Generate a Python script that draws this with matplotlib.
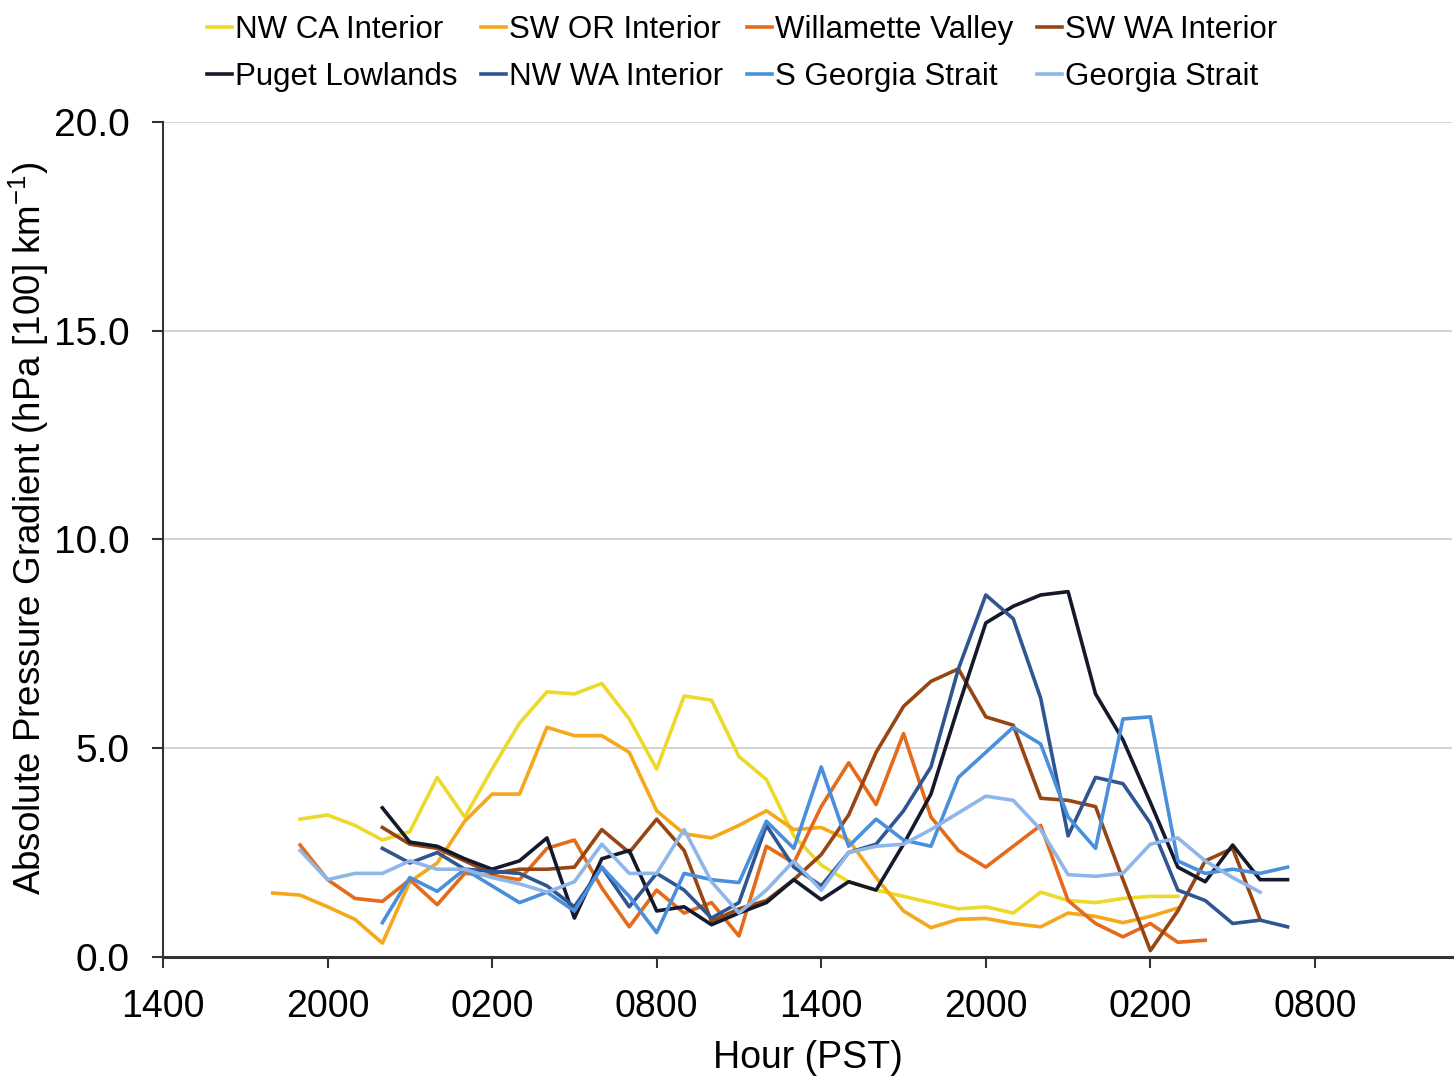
import numpy as np
import matplotlib
matplotlib.use('Agg')
from matplotlib import pyplot as plt

plt.rcParams['font.family'] = ['Liberation Sans', 'DejaVu Sans']

# hours since 1400 PST on day 1; each series starts at its own hour
tick_hours = [0, 6, 12, 18, 24, 30, 36, 42]
tick_labels = ['1400', '2000', '0200', '0800', '1400', '2000', '0200', '0800']

names = ['NW CA Interior', 'SW OR Interior', 'Willamette Valley', 'SW WA Interior',
         'Puget Lowlands', 'NW WA Interior', 'S Georgia Strait', 'Georgia Strait']
colors = ['#ecd92a', '#f5a81c', '#e46b1a', '#984514',
          '#141a2b', '#2f5690', '#4a8fdc', '#8fb6e8']
starts = [5, 4, 5, 8, 8, 8, 8, 5]

nwca = [3.3, 3.4, 3.15, 2.8, 3.0, 4.3, 3.35, 4.5, 5.6, 6.35, 6.3, 6.55, 5.7, 4.5,
        6.25, 6.15, 4.8, 4.25, 2.9, 2.2, 1.8, 1.6, 1.45, 1.3, 1.15, 1.2, 1.05,
        1.55, 1.35, 1.3, 1.4, 1.45, 1.45]
swor = [1.53, 1.48, 1.2, 0.9, 0.33, 1.8, 2.25, 3.25, 3.9, 3.9, 5.5, 5.3, 5.3, 4.9,
        3.5, 2.95, 2.85, 3.15, 3.5, 3.05, 3.1, 2.8, 1.9, 1.1, 0.7, 0.9, 0.92, 0.8,
        0.72, 1.05, 0.97, 0.82, 0.97, 1.17]
willamette = [2.68, 1.85, 1.4, 1.33, 1.85, 1.25, 2.0, 1.95, 1.85, 2.6, 2.8, 1.65,
              0.72, 1.6, 1.05, 1.3, 0.5, 2.65, 2.25, 3.6, 4.65, 3.65, 5.35, 3.35,
              2.55, 2.15, 2.65, 3.15, 1.35, 0.8, 0.48, 0.8, 0.35, 0.4]
swwa = [3.1, 2.7, 2.6, 2.3, 2.0, 2.1, 2.1, 2.15, 3.05, 2.5, 3.3, 2.55, 0.85, 1.15,
        1.35, 1.85, 2.45, 3.4, 4.9, 6.0, 6.6, 6.9, 5.75, 5.55, 3.8, 3.75, 3.6,
        1.85, 0.15, 1.1, 2.3, 2.6, 0.9]
puget = [3.57, 2.75, 2.65, 2.35, 2.1, 2.3, 2.85, 0.93, 2.35, 2.55, 1.1, 1.2, 0.77,
         1.05, 1.3, 1.85, 1.37, 1.8, 1.6, 2.7, 3.9, 6.0, 8.0, 8.4, 8.67, 8.75,
         6.3, 5.2, 3.7, 2.15, 1.8, 2.68, 1.85, 1.85]
nwwa = [2.6, 2.25, 2.5, 2.1, 2.05, 2.0, 1.7, 1.2, 2.15, 1.2, 2.0, 1.6, 0.93, 1.3,
        3.15, 2.15, 1.7, 2.5, 2.7, 3.5, 4.55, 6.9, 8.67, 8.1, 6.2, 2.9, 4.3, 4.15,
        3.2, 1.6, 1.35, 0.8, 0.88, 0.72]
sgeorgia = [0.82, 1.9, 1.57, 2.1, 1.7, 1.3, 1.55, 1.1, 2.15, 1.45, 0.58, 2.0, 1.85,
            1.78, 3.25, 2.6, 4.55, 2.65, 3.3, 2.8, 2.65, 4.3, 4.9, 5.5, 5.1, 3.35,
            2.6, 5.7, 5.75, 2.3, 2.0, 2.1, 2.0, 2.15]
georgia = [2.55, 1.85, 2.0, 2.0, 2.3, 2.1, 2.1, 1.9, 1.75, 1.55, 1.8, 2.7, 2.0, 2.0,
           3.05, 1.8, 1.05, 1.6, 2.3, 1.6, 2.5, 2.65, 2.7, 3.05, 3.45, 3.85, 3.75,
           3.05, 1.97, 1.93, 2.0, 2.7, 2.85, 2.3, 1.9, 1.55]

series = [nwca, swor, willamette, swwa, puget, nwwa, sgeorgia, georgia]

fig = plt.figure(figsize=(14.55, 10.8), dpi=100)
ax = fig.add_axes([0.112, 0.114, 0.886, 0.773])

lines = []
for name, col, s0, vals in zip(names, colors, starts, series):
    x = np.arange(s0, s0 + len(vals))
    ln, = ax.plot(x, vals, color=col, linewidth=2.6, label=name)
    lines.append(ln)

ax.set_xlim(0, 47)
ax.set_ylim(0, 20)
ax.set_xticks(tick_hours)
ax.set_xticklabels(tick_labels)
ax.set_yticks([0, 5, 10, 15, 20])
ax.set_yticklabels(['0.0', '5.0', '10.0', '15.0', '20.0'])
ax.yaxis.grid(True, color='#cccccc', linewidth=1.2)
ax.set_axisbelow(True)
for side in ['top', 'right']:
    ax.spines[side].set_visible(False)
ax.spines['left'].set_color('#333333')
ax.spines['bottom'].set_color('#333333')
ax.spines['left'].set_linewidth(1.5)
ax.spines['bottom'].set_linewidth(2.2)
ax.tick_params(axis='both', direction='out', length=8, width=1.5,
               color='#333333')
ax.tick_params(axis='x', labelsize=27, pad=15)
ax.tick_params(axis='y', labelsize=28, pad=16)

ax.set_xlabel('Hour (PST)', fontsize=27, labelpad=11)
ax.set_ylabel('Absolute Pressure Gradient (hPa [100] km$^{\\mathregular{-1}}$)',
              fontsize=26.5)
ax.yaxis.set_label_coords(-0.087, 0.513)

# row-wise legend order: matplotlib fills columns first
order = [0, 4, 1, 5, 2, 6, 3, 7]
fig.legend([lines[i] for i in order], [names[i] for i in order],
           loc='upper left', bbox_to_anchor=(0.123, 1.012), ncol=4, frameon=False,
           fontsize=22.5, handlelength=0.8, handletextpad=0.1, columnspacing=0.75,
           labelspacing=0.55)

plt.savefig('out.png', dpi=100)
